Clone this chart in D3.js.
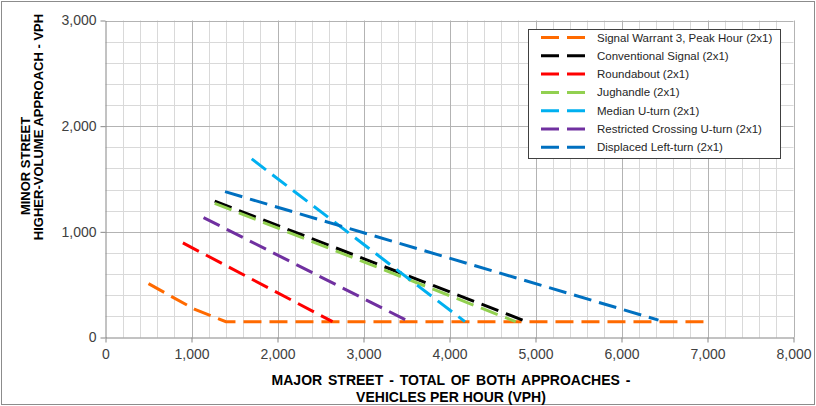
<!DOCTYPE html>
<html>
<head>
<meta charset="utf-8"/>
<script src="https://cdn.jsdelivr.net/npm/d3@7/dist/d3.min.js"></script>
<style>
  body { margin: 0; background: #fff; }
  svg text { font-family: Arial, "Liberation Sans", sans-serif; }
</style>
</head>
<body>
<script>
// series, [major street vph, minor street vph]
var signalWarrant3 = [[500, 510], [730, 405], [1040, 265], [1120, 240], [1400, 150], [7000, 150]];
var conventionalSignal = [[1270, 1290], [4850, 165]];
var roundabout = [[900, 895], [2640, 150]];
var jughandle = [[1270, 1270], [4770, 150]];
var medianUturn = [[1700, 1690], [4180, 150]];
var rcut = [[1140, 1135], [3530, 150]];
var displacedLeft = [[1390, 1380], [6430, 165]];

var seriesNames = ["Signal Warrant 3, Peak Hour (2x1)", "Conventional Signal (2x1)", "Roundabout (2x1)",
  "Jughandle (2x1)", "Median U-turn (2x1)", "Restricted Crossing U-turn (2x1)", "Displaced Left-turn (2x1)"];
var seriesData = [signalWarrant3, conventionalSignal, roundabout, jughandle, medianUturn, rcut, displacedLeft];
var colors = ["#ff6a00", "#000000", "#ff0000", "#92d050", "#00b0f0", "#7030a0", "#0070c0"];

var xTicks = [0, 1000, 2000, 3000, 4000, 5000, 6000, 7000, 8000];
var yTicks = [0, 1000, 2000, 3000];

var width = 816, height = 406;
var svg = d3.select("body").append("svg").attr("width", width).attr("height", height);

// outer chart border
svg.append("rect").attr("x", 1.5).attr("y", 1.5).attr("width", width - 3).attr("height", height - 3)
  .attr("fill", "#fff").attr("stroke", "#8c8c8c");

var x = d3.scaleLinear().domain([0, 8000]).range([105.5, 793.5]);
var y = d3.scaleLinear().domain([0, 3000]).range([337.5, 20.5]);

// minor grid every 200
var minorX = d3.range(200, 8001, 200).filter(function (d) { return d % 1000 != 0; });
var minorY = d3.range(200, 3001, 200).filter(function (d) { return d % 1000 != 0; });
var grid = svg.append("g");
grid.selectAll(".mx").data(minorX).enter().append("line")
  .attr("x1", function (d) { return Math.round(x(d)) + 0.5; }).attr("x2", function (d) { return Math.round(x(d)) + 0.5; })
  .attr("y1", y(0)).attr("y2", y(3000)).attr("stroke", "#d9d9d9");
grid.selectAll(".my").data(minorY).enter().append("line")
  .attr("y1", function (d) { return Math.round(y(d)) + 0.5; }).attr("y2", function (d) { return Math.round(y(d)) + 0.5; })
  .attr("x1", x(0)).attr("x2", x(8000)).attr("stroke", "#d9d9d9");
// major grid
grid.selectAll(".Mx").data(xTicks.slice(1)).enter().append("line")
  .attr("x1", function (d) { return Math.round(x(d)) + 0.5; }).attr("x2", function (d) { return Math.round(x(d)) + 0.5; })
  .attr("y1", y(0)).attr("y2", y(3000)).attr("stroke", "#b3b3b3");
grid.selectAll(".My").data(yTicks.slice(1)).enter().append("line")
  .attr("y1", function (d) { return Math.round(y(d)) + 0.5; }).attr("y2", function (d) { return Math.round(y(d)) + 0.5; })
  .attr("x1", x(0)).attr("x2", x(8000)).attr("stroke", "#b3b3b3");

// axes
var fmt = d3.format(",");
var xAxis = svg.append("g").attr("transform", "translate(0," + y(0) + ")")
  .call(d3.axisBottom(x).tickValues(xTicks).tickFormat(fmt).tickSize(5).tickSizeOuter(0));
var yAxis = svg.append("g").attr("transform", "translate(" + x(0) + ",0)")
  .call(d3.axisLeft(y).tickValues(yTicks).tickFormat(fmt).tickSize(5).tickSizeOuter(0));
[xAxis, yAxis].forEach(function (a) {
  a.select(".domain").attr("stroke", "#868686");
  a.selectAll(".tick line").attr("stroke", "#868686");
  a.selectAll(".tick text").attr("fill", "#404040").style("font-size", "14px").attr("font-family", null);
});
xAxis.selectAll(".tick text").attr("dy", "0.71em").attr("y", 12);
yAxis.selectAll(".tick text").attr("x", -9);

// series lines
var line = d3.line().x(function (d) { return x(d[0]); }).y(function (d) { return y(d[1]); });
svg.append("g").selectAll("path").data(seriesData).enter().append("path")
  .attr("d", line)
  .attr("fill", "none")
  .attr("stroke", function (d, i) { return colors[i]; })
  .attr("stroke-width", 3)
  .attr("stroke-dasharray", "18,8");

// axis titles
svg.append("text").attr("x", 451).attr("y", 385).attr("text-anchor", "middle")
  .style("font-size", "14px").style("font-weight", "bold").style("word-spacing", "2px")
  .text("MAJOR STREET - TOTAL OF BOTH APPROACHES -");
svg.append("text").attr("x", 451).attr("y", 402).attr("text-anchor", "middle")
  .style("font-size", "14px").style("font-weight", "bold").text("VEHICLES PER HOUR (VPH)");
svg.append("text").attr("transform", "translate(30,166) rotate(-90)").attr("text-anchor", "middle")
  .style("font-size", "13px").style("font-weight", "bold").text("MINOR STREET");
svg.append("text").attr("transform", "translate(43,127) rotate(-90)").attr("text-anchor", "middle")
  .style("font-size", "13px").style("font-weight", "bold").text("HIGHER-VOLUME APPROACH - VPH");

// legend
var legend = svg.append("g").attr("transform", "translate(528,29)");
legend.append("rect").attr("x", 0.5).attr("y", 0.5).attr("width", 252).attr("height", 129)
  .attr("fill", "#fff").attr("stroke", "#404040");
var items = legend.selectAll(".item").data(seriesNames).enter().append("g")
  .attr("transform", function (d, i) { return "translate(0," + (8.5 + i * 18.3) + ")"; });
items.append("line").attr("x1", 13).attr("x2", 63).attr("y1", 0).attr("y2", 0)
  .attr("stroke", function (d, i) { return colors[i]; }).attr("stroke-width", 3).attr("stroke-dasharray", "18,8");
items.append("text").attr("x", 69).attr("y", 4).style("font-size", "11.5px").attr("fill", "#262626")
  .text(function (d) { return d; });
</script>
</body>
</html>
